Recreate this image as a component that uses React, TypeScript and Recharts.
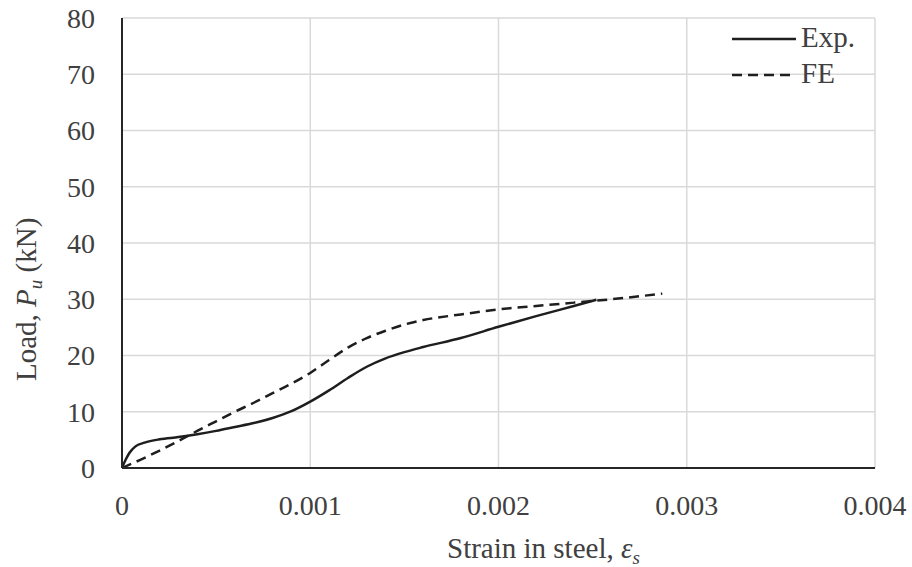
import { LineChart, Line, XAxis, YAxis, CartesianGrid } from 'recharts';

// strain values
const expStrain = [0, 0.00002, 0.00004, 0.00007, 0.00012, 0.0002, 0.0003, 0.0004, 0.0005, 0.0006, 0.0007, 0.0008, 0.0009, 0.001, 0.0011, 0.0012, 0.0013, 0.0014, 0.0015, 0.0016, 0.0018, 0.002, 0.0022, 0.0024, 0.00252];
const expLoad = [0, 1.5, 2.7, 3.8, 4.5, 5.1, 5.5, 6.0, 6.6, 7.3, 8.0, 8.9, 10.1, 11.8, 13.8, 16.0, 18.0, 19.5, 20.6, 21.5, 23.1, 25.1, 27.0, 28.8, 29.9];

const feStrain = [0, 0.0001, 0.0002, 0.0003, 0.0004, 0.0005, 0.0006, 0.0007, 0.0008, 0.0009, 0.001, 0.0011, 0.0012, 0.0013, 0.0014, 0.0015, 0.0016, 0.0018, 0.002, 0.0022, 0.0024, 0.0026, 0.00287];
const feLoad = [0, 1.5, 3.1, 4.8, 6.6, 8.3, 10.0, 11.6, 13.3, 15.0, 16.9, 19.2, 21.4, 23.1, 24.4, 25.5, 26.3, 27.3, 28.2, 28.8, 29.4, 30.0, 31.0];

const xTicks = [0, 0.001, 0.002, 0.003, 0.004];
const yTicks = [0, 10, 20, 30, 40, 50, 60, 70, 80];

const expData = expStrain.map((x, i) => ({ x, y: expLoad[i] }));
const feData = feStrain.map((x, i) => ({ x, y: feLoad[i] }));

const FONT = "'Liberation Serif', 'Times New Roman', serif";
const TEXT = '#404040';
const LINE = '#1e1e1e';
const textStyle = { fontFamily: FONT };

const LegendBox = () => (
    <div style={{ position: 'absolute', left: 730, top: 19, width: 150, height: 72, fontFamily: FONT, fontSize: 29, color: TEXT }}>
        {/* solid = Exp., dashed = FE */}
        {[{ name: 'Exp.', dash: undefined }, { name: 'FE', dash: '10 6' }].map((s, i) => (
            <div key={s.name} style={{ position: 'absolute', left: 0, top: i * 36, height: 36, lineHeight: '36px', whiteSpace: 'nowrap', display: 'flex' }}>
                <svg width={71} height={36} style={{ display: 'block' }}>
                    <line x1={2} x2={66} y1={20} y2={20} stroke={LINE} strokeWidth={2.5} strokeDasharray={s.dash} />
                </svg>
                <span>{s.name}</span>
            </div>
        ))}
    </div>
);

const App = () => {
    return (
        <div style={{ position: 'absolute', left: 0, top: 0, width: 912, height: 567, background: '#fff', fontFamily: FONT }}>
            <LineChart width={912} height={567} margin={{ top: 18, right: 37, left: 0, bottom: 0 }} style={textStyle}>
                <CartesianGrid stroke="#d9d9d9" strokeWidth={1.5} verticalValues={xTicks} horizontalValues={yTicks} />
                <XAxis
                    type="number"
                    dataKey="x"
                    domain={[0, 0.004]}
                    ticks={xTicks}
                    allowDataOverflow
                    height={99}
                    tickLine={false}
                    tickSize={0}
                    tickMargin={27}
                    axisLine={{ stroke: '#262626', strokeWidth: 2 }}
                    tick={{ fill: TEXT, fontSize: 28, fontFamily: FONT, style: textStyle }}
                    tickFormatter={(v: number) => (v === 0 ? '0' : v.toFixed(3))}
                    label={{
                        content: () => (
                            <text x={447} y={558} textAnchor="start" fill={TEXT} fontSize={29} style={textStyle}>
                                Strain in steel, <tspan fontStyle="italic">ε</tspan>
                                <tspan fontStyle="italic" fontSize={19} dy={6}>s</tspan>
                            </text>
                        ),
                    }}
                />
                <YAxis
                    type="number"
                    dataKey="y"
                    domain={[0, 80]}
                    ticks={yTicks}
                    width={122}
                    tickLine={false}
                    tickSize={0}
                    tickMargin={27}
                    axisLine={{ stroke: '#262626', strokeWidth: 2 }}
                    tick={{ fill: TEXT, fontSize: 28, fontFamily: FONT, style: textStyle }}
                    label={{
                        content: () => (
                            <text x={36} y={381} transform="rotate(-90 36 381)" textAnchor="start" fill={TEXT} fontSize={29} style={textStyle}>
                                Load, <tspan fontStyle="italic">P</tspan>
                                <tspan fontStyle="italic" fontSize={19} dy={6}>u</tspan>
                                <tspan dy={-6}> (kN)</tspan>
                            </text>
                        ),
                    }}
                />
                <Line data={expData} dataKey="y" name="Exp." type="monotone" stroke={LINE} strokeWidth={2.5} dot={false} isAnimationActive={false} />
                <Line data={feData} dataKey="y" name="FE" type="monotone" stroke={LINE} strokeWidth={2.5} strokeDasharray="10 6" dot={false} isAnimationActive={false} />
            </LineChart>
            <LegendBox />
        </div>
    );
};

export default App;
